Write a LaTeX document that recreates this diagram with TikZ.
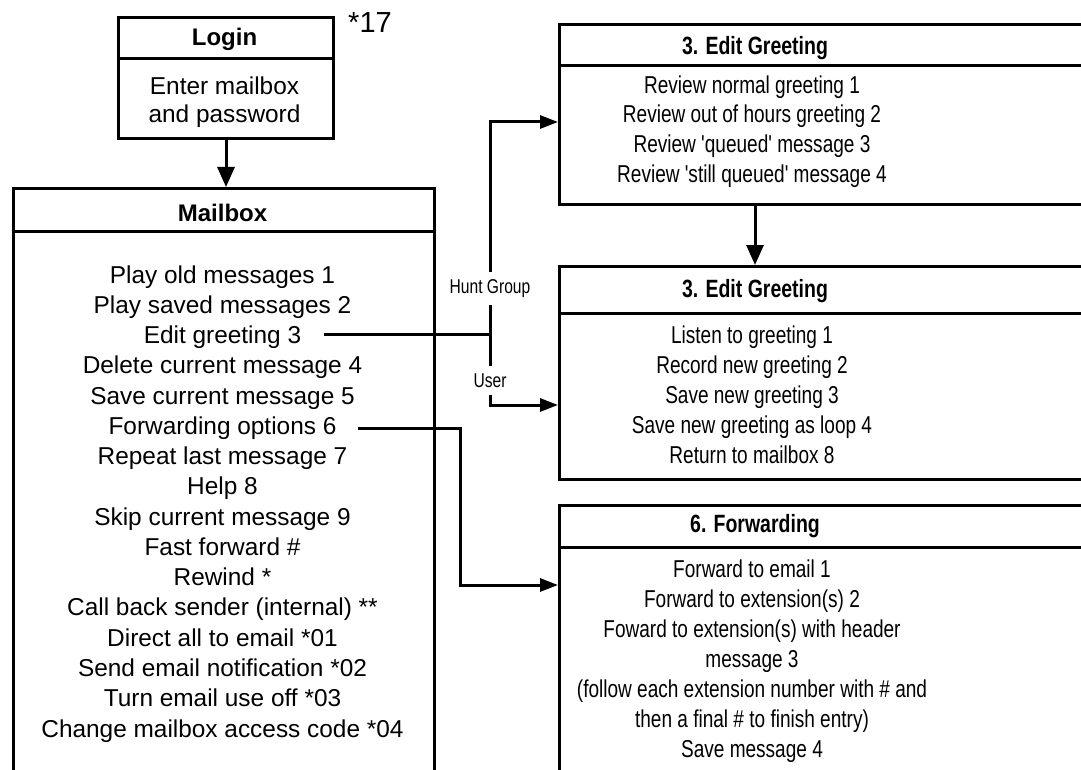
\documentclass[tikz,border=0pt]{standalone}
\usepackage{fontspec}
\setmainfont{Liberation Sans}
\newfontfamily\narrowfont[FakeStretch=0.78,Ligatures=TeXOff]{Liberation Sans}
\usetikzlibrary{arrows.meta}

\begin{document}
\begin{tikzpicture}[x=1pt,y=-1pt,line width=3pt,
	box/.style={draw,anchor=north west,inner sep=0pt},
	item/.style={anchor=base,inner sep=0pt,font=\fontsize{24.4}{29}\selectfont},
	nitem/.style={anchor=base,inner sep=0pt,font=\narrowfont\fontsize{24.4}{29}\selectfont},
	head/.style={anchor=base,inner sep=0pt,font=\bfseries\fontsize{24}{29}\selectfont},
	nhead/.style={anchor=base,inner sep=0pt,font=\narrowfont\bfseries\fontsize{25}{29}\selectfont},
	branch/.style={anchor=base,inner sep=6pt,font=\narrowfont\fontsize{20}{24}\selectfont},
	rtip/.style={-{Triangle[length=18pt,width=13pt]}},
	dtip/.style={-{Triangle[length=20pt,width=17pt]}}]
\useasboundingbox (0,0) rectangle (1081,770);
\clip (0,0) rectangle (1081,770);

% frames
\node[box,minimum width=215pt,minimum height=121pt] (login) at (117,16) {};
\node[box,minimum width=421pt,minimum height=620pt] (mailbox) at (12,187) {};
\node[box,minimum width=560pt,minimum height=180pt] (greetA) at (558,23) {};
\node[box,minimum width=560pt,minimum height=213pt] (greetB) at (558,265) {};
\node[box,minimum width=560pt,minimum height=300pt] (fwd) at (558,504) {};
\draw (117,59) -- (332,59);
\draw (12,231) -- (433,231);
\foreach \y in {66,313,547}
	\draw (558,\y) -- (1118,\y);

% login
\node[head] (loginhead) at (224.5,46) {Login};
\node[item] (lg1) at (224.5,95) {Enter mailbox};
\node[item] (lg2) at (224.5,123) {and password};
\node[anchor=base,inner sep=0pt,font=\fontsize{29}{29}\selectfont] (code) at (370,33) {*17};

% mailbox
\node[head] (mailboxhead) at (222.5,222) {Mailbox};
\foreach \t [count=\i] in {{Play old messages 1},{Play saved messages 2},{Edit greeting 3},
	{Delete current message 4},{Save current message 5},{Forwarding options 6},
	{Repeat last message 7},{Help 8},{Skip current message 9},{Fast forward \#},{Rewind *},
	{Call back sender (internal) **},{Direct all to email *01},{Send email notification *02},
	{Turn email use off *03},{Change mailbox access code *04}}
	\node[item] (mb\i) at (222.5,{283+30.27*(\i-1)}) {\t};

% greetings
\node[nhead] (greetAhead) at (755,55) {3. Edit Greeting};
\foreach \t [count=\i] in {{Review normal greeting 1},{Review out of hours greeting 2},
	{Review 'queued' message 3},{Review 'still queued' message 4}}
	\node[nitem] (ga\i) at (752,{93.3+29.7*(\i-1)}) {\t};
\node[nhead] (greetBhead) at (755,297) {3. Edit Greeting};
\foreach \t [count=\i] in {{Listen to greeting 1},{Record new greeting 2},{Save new greeting 3},
	{Save new greeting as loop 4},{Return to mailbox 8}}
	\node[nitem] (gb\i) at (752,{343+30*(\i-1)}) {\t};

% forwarding
\node[nhead] (fwdhead) at (755,532) {6. Forwarding};
\foreach \t [count=\i] in {{Forward to email 1},{Forward to extension(s) 2},
	{Foward to extension(s) with header},{message 3},{(follow each extension number with \# and},
	{then a final \# to finish entry)},{Save message 4}}
	\node[nitem] (fw\i) at (752,{577+30*(\i-1)}) {\t};

% connectors
\draw[dtip] (login.south) -- (login.south |- mailbox.north);
\draw[dtip] (greetAhead |- greetA.south) -- (greetAhead |- greetB.north);

\node[branch] (hunt) at (490,293) {Hunt Group};
\node[branch] (user) at (490,387) {User};
\path ([xshift=21pt,yshift=3pt]mb3.east) coordinate (e3);
\coordinate (split) at (e3 -| hunt);
\coordinate (inA) at (558,122);
\coordinate (inB) at (558,405);
\draw (e3) -- (split);
\draw (split) -- (hunt);
\draw[rtip] (hunt) |- (inA);
\draw (split) -- (user);
\draw[rtip] (user) |- (inB);

\coordinate (fbend) at (460,585);
\coordinate (inC) at (558,585);
\draw[rtip] ([xshift=20pt]mb6.east) -| (fbend) -- (inC);
\end{tikzpicture}
\end{document}
